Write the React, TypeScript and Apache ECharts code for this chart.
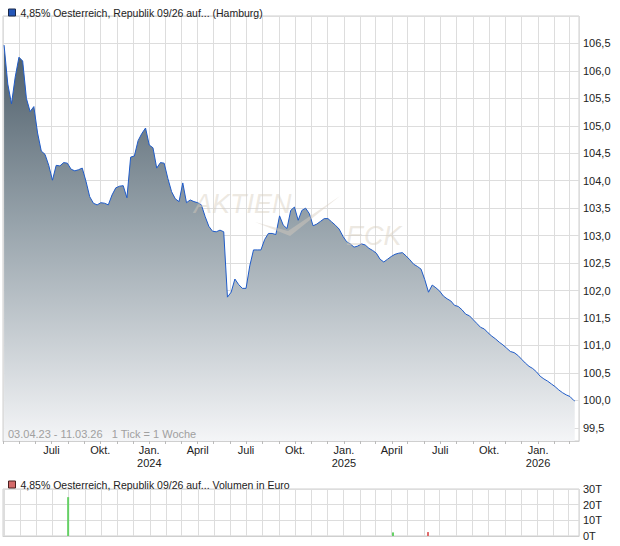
import React, { useEffect, useRef } from "react";
import * as echarts from "echarts";

const mainName = "4,85% Oesterreich, Republik 09/26 auf... (Hamburg)";
const volName = "4,85% Oesterreich, Republik 09/26 auf... Volumen in Euro";
const rangeText = "03.04.23 - 11.03.26   1 Tick = 1 Woche";

// weekly closes, first week starting 2023-04-03
const firstWeek = [2023, 3, 3];
const prices = [
  106.47, 105.76, 105.40, 105.89, 106.25, 106.18, 105.50, 105.26, 105.35, 104.87,
  104.54, 104.48, 104.28, 104.01, 104.28, 104.27, 104.33, 104.32, 104.21, 104.18,
  104.20, 104.23, 103.99, 103.71, 103.59, 103.56, 103.60, 103.59, 103.56, 103.74,
  103.87, 103.90, 103.91, 103.69, 104.43, 104.45, 104.73, 104.86, 104.96, 104.65,
  104.60, 104.23, 104.33, 104.32, 104.04, 103.80, 103.67, 103.62, 103.96, 103.60,
  103.65, 103.62, 103.60, 103.56, 103.35, 103.17, 103.08, 103.07, 103.10, 103.07,
  101.88, 101.97, 102.21, 102.11, 102.04, 102.04, 102.45, 102.74, 102.74, 102.74,
  102.93, 103.04, 103.04, 103.02, 103.36, 103.19, 103.13, 103.46, 103.52, 103.28,
  103.46, 103.50, 103.40, 103.18, 103.21, 103.26, 103.31, 103.31, 103.25, 103.19,
  103.12, 102.99, 102.89, 102.85, 102.79, 102.81, 102.85, 102.83, 102.77, 102.73,
  102.68, 102.57, 102.52, 102.57, 102.62, 102.66, 102.68, 102.69, 102.63, 102.56,
  102.48, 102.44, 102.39, 102.20, 101.97, 102.10, 102.05, 101.99, 101.90, 101.85,
  101.81, 101.73, 101.71, 101.65, 101.57, 101.54, 101.47, 101.40, 101.33, 101.30,
  101.23, 101.17, 101.12, 101.06, 101.01, 100.95, 100.89, 100.87, 100.82, 100.75,
  100.68, 100.62, 100.58, 100.52, 100.44, 100.39, 100.35, 100.30, 100.25, 100.19,
  100.14, 100.10, 100.07, 100.00,
];
const lastDate = [2026, 2, 11];
const lastPrice = 99.99;

const volumeDates = [[2023, 6, 31], [2025, 3, 4], [2025, 5, 9]];
const volumeValues = [24800, 2300, 2500];
const volumeUp = [true, true, false];

const axisStart = [2023, 3, 1];
const axisEnd = [2026, 2, 19];

const monthNames: Record<number, string> = { 0: "Jan.", 3: "April", 6: "Juli", 9: "Okt." };
const volTicks = [0, 10000, 20000, 30000];

const FONT = "'Liberation Sans', Arial, sans-serif";

function ts(a: number[]) {
  return new Date(a[0], a[1], a[2]).getTime();
}

export default function App() {
  const ref = useRef<HTMLDivElement>(null);
  useEffect(() => {
    document.body.style.margin = "0";
    if (!ref.current) return;
    const chart = echarts.init(ref.current, null, { renderer: "svg" });
    const priceData: [number, number][] = prices.map((v, i) => [
      new Date(firstWeek[0], firstWeek[1], firstWeek[2] + 7 * i).getTime(),
      v,
    ]);
    priceData.push([ts(lastDate), lastPrice]);
    const volData = volumeDates.map((d, i) => ({
      value: [ts(d), volumeValues[i]],
      itemStyle: { color: volumeUp[i] ? "#66d066" : "#e06a6a" },
    }));
    const xMin = ts(axisStart);
    const xMax = ts(axisEnd);
    const DAY = 86400000;
    const monthLabel = (val: number) => {
      if (val <= xMin + DAY || val >= xMax - DAY) return "";
      const d = new Date(val);
      if (d.getDate() !== 1) return "";
      const m = d.getMonth();
      const n = monthNames[m];
      if (!n) return "";
      return m === 0 ? n + "\n" + d.getFullYear() : n;
    };
    const gridBase = {
      left: 3,
      right: 41,
      show: true,
      borderColor: "#cfcfcf",
      borderWidth: 1,
      containLabel: false,
      outerBoundsMode: "none",
    };
    const wm = "rgba(215,205,190,0.45)";
    const option: any = {
      animation: false,
      backgroundColor: "#ffffff",
      textStyle: { fontFamily: FONT },
      legend: [
        {
          left: 3,
          top: 2,
          itemWidth: 7,
          itemHeight: 7,
          itemGap: 10,
          selectedMode: false,
          textStyle: { fontSize: 10.5, color: "#222", fontFamily: FONT },
          data: [
            {
              name: mainName,
              icon: "rect",
              itemStyle: { color: "#2456b8", borderColor: "#1b2a4a", borderWidth: 1 },
            },
          ],
        },
        {
          left: 3,
          top: 474,
          itemWidth: 7,
          itemHeight: 7,
          selectedMode: false,
          textStyle: { fontSize: 10.5, color: "#222", fontFamily: FONT },
          data: [
            {
              name: volName,
              icon: "rect",
              itemStyle: { color: "#d46a6a", borderColor: "#4a2020", borderWidth: 1 },
            },
          ],
        },
      ],
      grid: [
        { ...gridBase, top: 16, height: 425 },
        { ...gridBase, top: 489, height: 47 },
      ],
      xAxis: [
        {
          type: "time",
          gridIndex: 0,
          min: xMin,
          max: xMax,
          splitNumber: 36,
          minInterval: 28 * DAY,
          maxInterval: 31 * DAY,
          axisLine: { show: true, lineStyle: { color: "#cfcfcf" } },
          axisTick: { show: true, length: 3, lineStyle: { color: "#bbbbbb" } },
          axisLabel: {
            show: true,
            color: "#222",
            fontSize: 11,
            lineHeight: 13,
            margin: 2,
            hideOverlap: false,
            showMinLabel: false,
            showMaxLabel: false,
            formatter: monthLabel,
          },
          splitLine: { show: true, lineStyle: { color: "#dddddd", width: 1 } },
        },
        {
          type: "time",
          gridIndex: 1,
          min: xMin,
          max: xMax,
          splitNumber: 36,
          minInterval: 28 * DAY,
          maxInterval: 31 * DAY,
          axisLine: { show: true, lineStyle: { color: "#cfcfcf" } },
          axisTick: { show: false },
          axisLabel: { show: false },
          splitLine: { show: true, lineStyle: { color: "#dddddd", width: 1 } },
        },
      ],
      yAxis: [
        {
          type: "value",
          gridIndex: 0,
          position: "right",
          min: 99.26,
          max: 107,
          splitNumber: 15,
          minInterval: 0.5,
          maxInterval: 0.5,
          axisLine: { show: false },
          axisTick: { show: false },
          axisLabel: {
            color: "#222",
            fontSize: 11,
            margin: 4,
            showMinLabel: true,
            showMaxLabel: true,
            formatter: (v: number) => {
              if (Math.abs(v * 2 - Math.round(v * 2)) > 1e-6) return "";
              if (v > 106.75) return "";
              return v.toFixed(1).replace(".", ",");
            },
          },
          splitLine: { show: true, lineStyle: { color: "#dddddd", width: 1 } },
        },
        {
          type: "value",
          gridIndex: 1,
          position: "right",
          min: volTicks[0],
          max: volTicks[volTicks.length - 1],
          interval: 10000,
          axisLine: { show: false },
          axisTick: { show: false },
          axisLabel: {
            color: "#222",
            fontSize: 11,
            margin: 4,
            formatter: (v: number) => Math.round(v / 1000) + "T",
          },
          splitLine: { show: true, lineStyle: { color: "#dddddd", width: 1 } },
        },
      ],
      series: [
        {
          name: mainName,
          type: "line",
          xAxisIndex: 0,
          yAxisIndex: 0,
          data: priceData,
          showSymbol: false,
          symbol: "none",
          lineStyle: { color: "#1f5bc8", width: 1 },
          itemStyle: { color: "#2456b8" },
          areaStyle: {
            color: new echarts.graphic.LinearGradient(0, 0, 0, 1, [
              { offset: 0, color: "#4c5c68" },
              { offset: 0.45, color: "#97a3ab" },
              { offset: 1, color: "#f4f5f7" },
            ]),
            opacity: 1,
          },
          z: 3,
        },
        {
          name: volName,
          type: "bar",
          xAxisIndex: 1,
          yAxisIndex: 1,
          data: volData,
          barWidth: 2,
          itemStyle: { color: "#d46a6a" },
        },
      ],
      graphic: [
        {
          type: "text",
          left: 8,
          top: 428,
          z: 10,
          style: { text: rangeText, fill: "#a0a0a0", fontSize: 11, fontFamily: FONT },
        },
        {
          type: "text",
          left: 194,
          top: 190,
          z: 10,
          silent: true,
          style: {
            text: "AKTIEN",
            fill: wm,
            fontSize: 27,
            fontStyle: "italic",
            fontWeight: "normal",
            fontFamily: FONT,
          },
        },
        {
          type: "polygon",
          z: 10,
          silent: true,
          shape: {
            points: [
              [255, 222],
              [290, 236],
              [340, 196],
              [288, 231],
            ],
          },
          style: { fill: wm },
        },
        {
          type: "text",
          left: 346,
          top: 222,
          z: 10,
          silent: true,
          style: {
            text: "ECK",
            fill: wm,
            fontSize: 27,
            fontStyle: "italic",
            fontWeight: "normal",
            fontFamily: FONT,
          },
        },
      ],
    };
    chart.setOption(option);
    return () => chart.dispose();
  }, []);
  return <div ref={ref} style={{ width: 620, height: 546 }} />;
}
